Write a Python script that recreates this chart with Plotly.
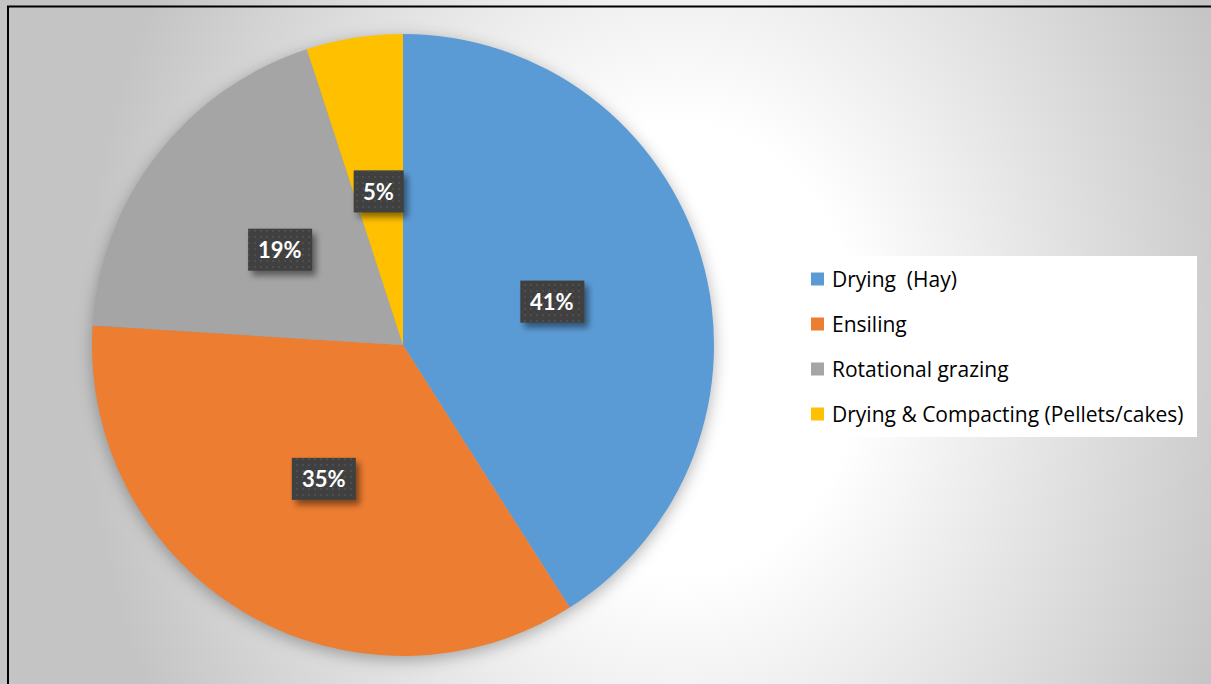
import base64
import math

import plotly.graph_objects as go

# --- data -------------------------------------------------------------------
categories = [
    "Drying \u00a0(Hay)",
    "Ensiling",
    "Rotational grazing",
    "Drying & Compacting (Pellets/cakes)",
]
shares = [41, 35, 19, 5]
colors = ["#5B9BD5", "#ED7D31", "#A5A5A5", "#FFC000"]

# --- geometry (pixels) ------------------------------------------------------
W, H = 1211, 684
CX, CY, R = 403, 345, 311          # pie centre and radius
LABEL_R = 0.5                      # data labels sit half way out along each slice
LEG_X, LEG_Y0, LEG_STEP = 811, 279, 45
LEG_BOX = (785, 256, 1197, 437)


def px(x):
    return x / W


def py(y):
    return 1 - y / H


def svg_uri(body):
    svg = (f'<svg xmlns="http://www.w3.org/2000/svg" width="{W}" height="{H}" '
           f'viewBox="0 0 {W} {H}">{body}</svg>')
    return "data:image/svg+xml;base64," + base64.b64encode(svg.encode()).decode()


# label anchor points along the bisector of each slice
total = sum(shares)
label_pts = []
cum = 0
for v in shares:
    mid = (cum + v / 2) / total * 2 * math.pi
    cum += v
    label_pts.append((CX + LABEL_R * R * math.sin(mid), CY - LABEL_R * R * math.cos(mid)))

# chart-area fill: soft radial gradient plus the drop shadow under the pie
background = svg_uri(
    '<defs>'
    '<radialGradient id="bg" gradientUnits="userSpaceOnUse" cx="680" cy="350" r="600" '
    'gradientTransform="translate(680 350) scale(1 1.25) translate(-680 -350)">'
    '<stop offset="0.3" stop-color="#ffffff"/><stop offset="1" stop-color="#c4c4c4"/>'
    '</radialGradient>'
    '<filter id="pieshadow" x="-20%" y="-20%" width="140%" height="140%">'
    '<feGaussianBlur stdDeviation="8"/></filter>'
    '</defs>'
    f'<rect x="0" y="0" width="{W}" height="{H}" fill="url(#bg)"/>'
    f'<circle cx="{CX}" cy="{CY + 4}" r="{R}" fill="#000" fill-opacity="0.3" '
    'filter="url(#pieshadow)"/>'
)

# dark, dotted callout boxes with a soft shadow behind the percentage labels
box_parts = [
    '<defs>'
    '<pattern id="dots" width="6" height="6" patternUnits="userSpaceOnUse">'
    '<circle cx="3" cy="3" r="1" fill="#535353"/></pattern>'
    '<filter id="boxshadow" x="-50%" y="-50%" width="200%" height="200%">'
    '<feGaussianBlur stdDeviation="3"/></filter>'
    '</defs>'
]
for v, (lx, ly) in zip(shares, label_pts):
    bw = 36 + 14 * len(str(v))
    bh = 42
    x0, y0 = lx - bw / 2, ly - bh / 2
    box_parts.append(
        f'<rect x="{x0 + 4}" y="{y0 + 5}" width="{bw}" height="{bh}" fill="#000" '
        'fill-opacity="0.45" filter="url(#boxshadow)"/>'
        f'<rect x="{x0}" y="{y0}" width="{bw}" height="{bh}" fill="#404040"/>'
        f'<rect x="{x0}" y="{y0}" width="{bw}" height="{bh}" fill="url(#dots)"/>'
    )
label_boxes = svg_uri("".join(box_parts))

fig = go.Figure()
fig.add_trace(go.Pie(
    labels=categories,
    values=shares,
    marker=dict(colors=colors, line=dict(width=0)),
    sort=False,
    direction="clockwise",
    rotation=0,
    textinfo="none",
    hoverinfo="label+percent",
    showlegend=False,
    domain=dict(x=[px(CX - R), px(CX + R)], y=[py(CY + R), py(CY - R)]),
))

annotations = []
for v, (lx, ly) in zip(shares, label_pts):
    annotations.append(dict(
        x=px(lx), y=py(ly), xref="paper", yref="paper",
        text=f"<b>{v}%</b>", showarrow=False,
        xanchor="center", yanchor="middle",
        font=dict(family="Lato", size=22, color="#ffffff"),
    ))

shapes = [
    # chart-area border
    dict(type="rect", xref="paper", yref="paper",
         x0=px(8), y0=py(6.5), x1=1.05, y1=-0.05,
         line=dict(color="#000000", width=2), fillcolor="rgba(0,0,0,0)", layer="above"),
    # legend panel
    dict(type="rect", xref="paper", yref="paper",
         x0=px(LEG_BOX[0]), y0=py(LEG_BOX[1]), x1=px(LEG_BOX[2]), y1=py(LEG_BOX[3]),
         line=dict(width=0), fillcolor="#ffffff", layer="above"),
]
for i, (name, col) in enumerate(zip(categories, colors)):
    yc = LEG_Y0 + i * LEG_STEP
    shapes.append(dict(
        type="rect", xref="paper", yref="paper",
        x0=px(LEG_X), x1=px(LEG_X + 13), y0=py(yc - 6.5), y1=py(yc + 6.5),
        line=dict(width=0), fillcolor=col, layer="above",
    ))
    annotations.append(dict(
        x=px(LEG_X + 19), y=py(yc), xref="paper", yref="paper",
        text=name, showarrow=False, xanchor="left", yanchor="middle",
        font=dict(family="Open Sans", size=21, color="#000000"),
    ))

fig.update_layout(
    width=W, height=H,
    margin=dict(l=0, r=0, t=0, b=0),
    paper_bgcolor="#ffffff",
    images=[
        dict(source=background, xref="paper", yref="paper", x=0, y=1,
             sizex=1, sizey=1, xanchor="left", yanchor="top",
             sizing="stretch", layer="below"),
        dict(source=label_boxes, xref="paper", yref="paper", x=0, y=1,
             sizex=1, sizey=1, xanchor="left", yanchor="top",
             sizing="stretch", layer="above"),
    ],
    shapes=shapes,
    annotations=annotations,
)

fig.write_html("out.html")
